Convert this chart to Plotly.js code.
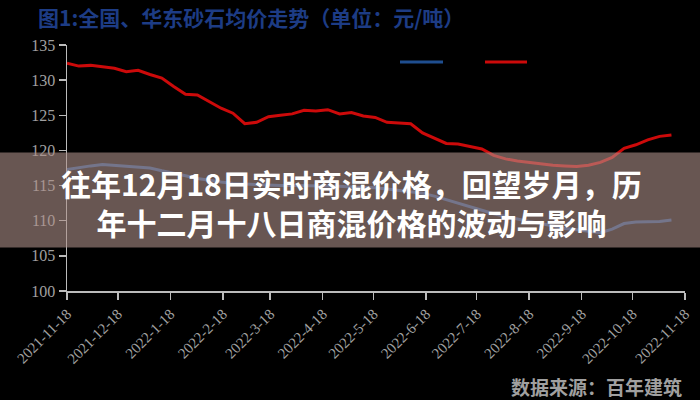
<!DOCTYPE html>
<html>
<head>
<meta charset="utf-8">
<script src="https://cdn.plot.ly/plotly-3.0.1.min.js"></script>
<style>html,body{margin:0;padding:0;background:#000;}#chart{width:700px;height:400px;}</style>
</head>
<body>
<div id="chart"></div>
<script>
var dates = ["2021-11-18","2021-11-25","2021-12-02","2021-12-09","2021-12-16","2021-12-23","2021-12-30",
"2022-01-06","2022-01-13","2022-01-20","2022-01-27","2022-02-03","2022-02-10","2022-02-17","2022-02-24",
"2022-03-03","2022-03-10","2022-03-17","2022-03-24","2022-03-31","2022-04-07","2022-04-14","2022-04-21","2022-04-28",
"2022-05-05","2022-05-12","2022-05-19","2022-05-26","2022-06-02","2022-06-09","2022-06-16","2022-06-23","2022-06-30",
"2022-07-07","2022-07-14","2022-07-21","2022-07-28","2022-08-04","2022-08-11","2022-08-18","2022-08-25",
"2022-09-01","2022-09-08","2022-09-15","2022-09-22","2022-09-29","2022-10-06","2022-10-13","2022-10-20","2022-10-27",
"2022-11-03","2022-11-10"];

var nationalPrice = [117.3,117.6,117.8,118.0,117.9,117.8,117.7,117.5,117.1,116.8,116.4,116.0,115.7,115.5,115.3,
115.2,115.1,115.1,115.0,115.0,115.0,114.9,114.9,114.9,114.8,114.8,114.7,114.5,114.3,114.1,113.9,113.5,113.0,
112.5,112.0,111.4,111.0,110.6,110.2,109.9,109.6,109.2,108.9,108.7,108.5,108.3,108.8,109.6,109.8,109.8,109.9,110.1];

var eastChinaPrice = [132.4,132.0,132.1,131.9,131.7,131.2,131.4,130.8,130.3,129.1,128.0,127.9,126.9,126.0,125.3,
123.8,124.0,124.8,125.0,125.2,125.7,125.6,125.8,125.2,125.4,124.9,124.7,124.0,123.9,123.8,122.5,121.7,121.0,
120.9,120.6,120.2,119.3,118.8,118.5,118.3,118.0,117.9,117.8,117.7,117.9,118.3,119.0,120.3,120.8,121.5,122.0,122.2];

var tickDates = ["2021-11-18","2021-12-18","2022-01-18","2022-02-18","2022-03-18","2022-04-18","2022-05-18",
"2022-06-18","2022-07-18","2022-08-18","2022-09-18","2022-10-18","2022-11-18"];
var tickLabels = ["2021-11-18","2021-12-18","2022-1-18","2022-2-18","2022-3-18","2022-4-18","2022-5-18",
"2022-6-18","2022-7-18","2022-8-18","2022-9-18","2022-10-18","2022-11-18"];
var seriesNames = ["全国","华东"];
var yTicks = [100,105,110,115,120,125,130,135];

var blue = "#1f4e8f", red = "#cc0a0a";
var serif = "Liberation Serif, DejaVu Serif, serif";
var cjk = "Noto Sans CJK SC, sans-serif";

var traces = [
  {x: dates, y: nationalPrice, name: seriesNames[0], type: "scatter", mode: "lines",
   line: {color: blue, width: 3}, showlegend: false},
  {x: dates, y: eastChinaPrice, name: seriesNames[1], type: "scatter", mode: "lines",
   line: {color: red, width: 3}, showlegend: false}
];

var L = 67, R = 15, T = 45, B = 109, W = 700, H = 400;
var pw = W - L - R, ph = H - T - B;
function px(x){ return (x - L) / pw; }
function py(y){ return (H - B - y) / ph; }

var layout = {
  width: W, height: H,
  margin: {l: L, r: R, t: T, b: B},
  paper_bgcolor: "#000", plot_bgcolor: "#000",
  showlegend: false,
  title: {text: "图1:全国、华东砂石均价走势（单位：元/吨）", xref: "container", yref: "container",
          x: 38/W, xanchor: "left", y: 1 - 19/H, yanchor: "middle",
          font: {family: cjk, size: 21, color: "#1d3c85", weight: 700}},
  xaxis: {type: "date", range: ["2021-11-18","2022-11-18"], tickvals: tickDates, ticktext: tickLabels,
          tickangle: -45, showgrid: false, zeroline: false, showline: true, linecolor: "#bbbbbb", linewidth: 1.5,
          ticks: "outside", ticklen: 7, tickcolor: "#bbbbbb", tickwidth: 1.5,
          tickfont: {family: serif, size: 15, color: "#a0a0a0"}},
  yaxis: {range: [100, 135], tickvals: yTicks, showgrid: false, zeroline: false, showline: true,
          linecolor: "#bbbbbb", linewidth: 1.5, ticks: "outside", ticklen: 7, tickcolor: "#bbbbbb", tickwidth: 1.5,
          tickfont: {family: serif, size: 16, color: "#a0a0a0"}},
  shapes: [
    {type: "line", xref: "paper", yref: "paper", x0: px(400), x1: px(443), y0: py(62), y1: py(62),
     line: {color: blue, width: 3}},
    {type: "line", xref: "paper", yref: "paper", x0: px(485), x1: px(527), y0: py(62), y1: py(62),
     line: {color: red, width: 3}},
    {type: "rect", xref: "paper", yref: "paper", x0: px(0), x1: px(700), y0: py(247.5), y1: py(152.5),
     fillcolor: "rgba(173,143,137,0.6)", line: {width: 0}, layer: "above"}
  ],
  annotations: [
    {xref: "paper", yref: "paper", x: px(447), y: py(62), xanchor: "left", yanchor: "middle", showarrow: false,
     text: seriesNames[0], font: {family: cjk, size: 12, color: "#000"}},
    {xref: "paper", yref: "paper", x: px(531), y: py(62), xanchor: "left", yanchor: "middle", showarrow: false,
     text: seriesNames[1], font: {family: cjk, size: 12, color: "#000"}},
    {xref: "paper", yref: "paper", x: px(351), y: py(202), xanchor: "center", yanchor: "middle", showarrow: false,
     text: "往年12月18日实时商混价格，回望岁月，历<br>年十二月十八日商混价格的波动与影响", align: "center",
     font: {family: cjk, size: 30, color: "#ffffff", weight: 700}},
    {xref: "paper", yref: "paper", x: px(684), y: py(386), xanchor: "right", yanchor: "middle", showarrow: false,
     text: "数据来源：百年建筑", font: {family: cjk, size: 19, color: "#a0a0a0", weight: 700}}
  ]
};

Plotly.newPlot("chart", traces, layout, {displayModeBar: false, staticPlot: true});
</script>
</body>
</html>
